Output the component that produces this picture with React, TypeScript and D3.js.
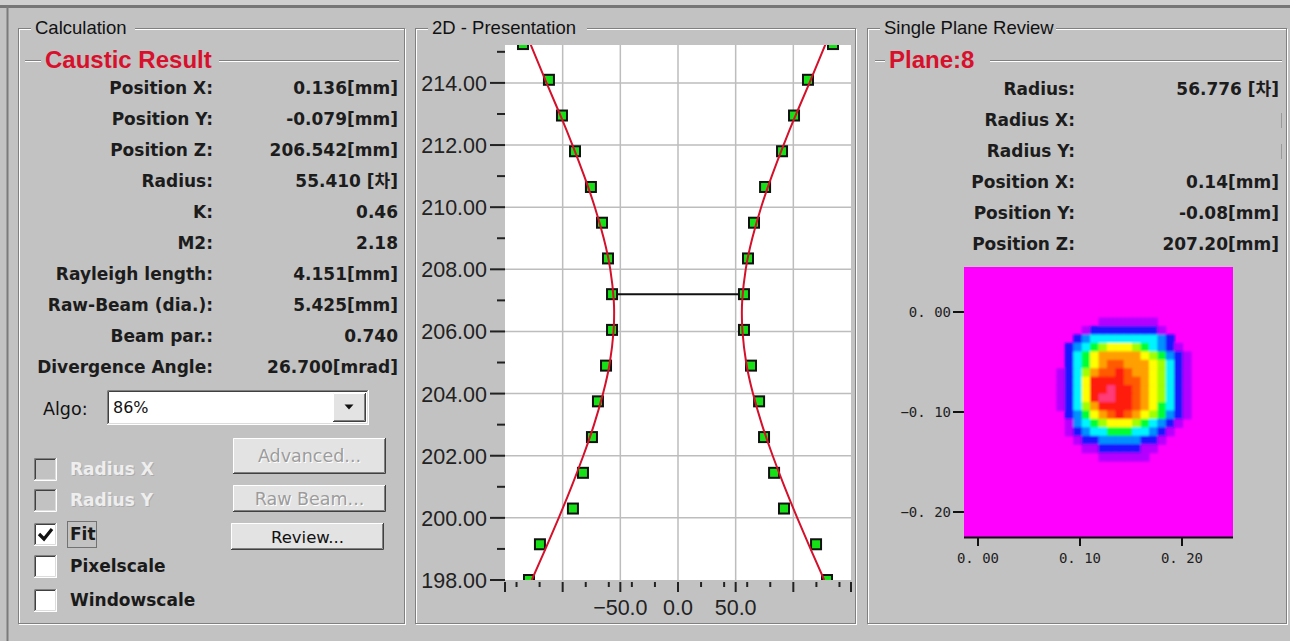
import * as d3 from "d3";
import React from "react";

// caustic measurement: plane positions (mm) and measured half widths per side
const planeZ = [198.0, 199.15, 200.3, 201.45, 202.6, 203.75, 204.9, 206.05, 207.2, 208.35, 209.5, 210.65, 211.8, 212.95, 214.1, 215.25];
const leftRadius = [-129.2, -119.7, -91.1, -82.4, -74.6, -69.4, -62.4, -57.2, -57.2, -60.7, -65.9, -75.5, -89.3, -100.6, -111.9, -134.4];
const rightRadius = [129.2, 119.7, 91.9, 83.3, 74.6, 70.3, 63.3, 57.2, 57.2, 60.7, 65.9, 75.5, 90.2, 100.6, 112.7, 134.4];
const selectedPlane = 8;

// red fit curve
const fitZ = [198.0, 199.0, 200.0, 201.0, 202.0, 203.0, 204.0, 205.0, 206.0, 206.5, 207.0, 208.0, 209.0, 210.0, 211.0, 212.0, 213.0, 214.0, 215.3];
const fitRadius = [126.8, 114.9, 103.4, 92.4, 82.1, 72.8, 65.0, 59.1, 55.9, 55.4, 55.7, 58.7, 64.4, 72.1, 81.3, 91.5, 102.5, 114.0, 128.5];

const xLabelTicks = [-50, 0, 50];

const calcLabels = ["Position X:", "Position Y:", "Position Z:", "Radius:", "K:", "M2:", "Rayleigh length:", "Raw-Beam (dia.):", "Beam par.:", "Divergence Angle:"];
const calcValues = ["0.136[mm]", "-0.079[mm]", "206.542[mm]", "55.410 [차]", "0.46", "2.18", "4.151[mm]", "5.425[mm]", "0.740", "26.700[mrad]"];

const planeLabels = ["Radius:", "Radius X:", "Radius Y:", "Position X:", "Position Y:", "Position Z:"];
const planeValues = ["56.776 [차]", "", "", "0.14[mm]", "-0.08[mm]", "207.20[mm]"];

const algoValue = "86%";
const checkLabels = ["Radius X", "Radius Y", "Fit", "Pixelscale", "Windowscale"];
const checkEnabled = [false, false, true, true, true];
const checkChecked = [false, false, true, false, false];
const buttonLabels = ["Advanced...", "Raw Beam...", "Review..."];
const buttonEnabled = [false, false, true];

// beam profile of the selected plane, one char per cell (0 = background)
const profileSize = 32;
const spotCol = 11;
const spotRow = 6;
const spotRows = [
  "0000011111110000",
  "0001222222221000",
  "0023444444443200",
  "0234567776543210",
  "0245788888765321",
  "0245789988876421",
  "1246899R98876421",
  "1247RRRR99876421",
  "1247RRPRR9876421",
  "1247RPPRR9876421",
  "12468RRRR9875421",
  "0235789R98765321",
  "0134567776543210",
  "0123445554432100",
  "0012233333221000",
  "0001122222110000",
  "0000011111100000",
];
const levelColors: Record<string, string> = {
  "0": "#ff00ff",
  "1": "#b400ff",
  "2": "#1414ff",
  "3": "#0090ff",
  "4": "#00f4ff",
  "5": "#00ff30",
  "6": "#a0ff00",
  "7": "#ffff00",
  "8": "#ffa000",
  "9": "#ff5a00",
  R: "#ff1a10",
  P: "#ff3a78",
};

const BG = "#c2c2c2";
const SANS = "'DejaVu Sans', 'Noto Sans CJK KR', sans-serif";
const ARIAL = "'Liberation Sans', Arial, sans-serif";
const MONO = "'DejaVu Sans Mono', monospace";

function GroupBox({ x, y, w, h, title, titleW }: any) {
  return (
    <g>
      <rect x={x + 1.5} y={y + 1.5} width={w - 2} height={h - 2} fill="none" stroke="#fff" />
      <rect x={x + 0.5} y={y + 0.5} width={w - 2} height={h - 2} fill="none" stroke="#808080" />
      <rect x={x + 13} y={y - 10} width={titleW} height={20} fill={BG} />
      <text x={x + 17} y={y + 6} fontFamily={ARIAL} fontSize={18.5} fill="#111">
        {title}
      </text>
    </g>
  );
}

function SubTitle({ x1, x2, y, gapFrom, gapTo, title }: any) {
  return (
    <g>
      <line x1={x1} x2={gapFrom} y1={y + 0.5} y2={y + 0.5} stroke="#808080" />
      <line x1={x1} x2={gapFrom} y1={y + 1.5} y2={y + 1.5} stroke="#fff" />
      <line x1={gapTo} x2={x2} y1={y + 0.5} y2={y + 0.5} stroke="#808080" />
      <line x1={gapTo} x2={x2} y1={y + 1.5} y2={y + 1.5} stroke="#fff" />
      <text x={gapFrom + 4} y={y + 8} fontFamily={ARIAL} fontWeight="bold" fontSize={24} fill="#d8102c">
        {title}
      </text>
    </g>
  );
}

function Sunken({ x, y, w, h, fill }: any) {
  return (
    <g>
      <rect x={x} y={y} width={w} height={h} fill={fill} />
      <path d={`M${x + 0.5},${y + h} V${y + 0.5} H${x + w}`} fill="none" stroke="#808080" />
      <path d={`M${x + 1.5},${y + h - 1} V${y + 1.5} H${x + w - 1}`} fill="none" stroke="#404040" />
      <path d={`M${x},${y + h - 0.5} H${x + w - 0.5} V${y}`} fill="none" stroke="#fff" />
      <path d={`M${x + 1},${y + h - 1.5} H${x + w - 1.5} V${y + 1}`} fill="none" stroke="#dcdcdc" />
    </g>
  );
}

function Raised({ x, y, w, h }: any) {
  return (
    <g>
      <rect x={x} y={y} width={w} height={h} fill="#e3e3e3" />
      <path d={`M${x + 0.5},${y + h} V${y + 0.5} H${x + w}`} fill="none" stroke="#fff" />
      <path d={`M${x},${y + h - 0.5} H${x + w - 0.5} V${y}`} fill="none" stroke="#404040" />
      <path d={`M${x + 1},${y + h - 1.5} H${x + w - 1.5} V${y + 1}`} fill="none" stroke="#808080" />
    </g>
  );
}

function CausticChart() {
  const left = 505, right = 851, top = 45, bottom = 580;
  const x = d3.scaleLinear().domain([-150, 150]).range([left, right]);
  const y = d3.scaleLinear().domain([198, 215.22]).range([bottom, top]);
  const yMajor = y.ticks(9);
  const yMinor = y.ticks(18).filter((t) => !yMajor.includes(t));
  const xMajor = x.ticks(6);
  const xMinor = x.ticks(12).filter((t) => !xMajor.includes(t));
  const fmtY = d3.format(".2f");
  const fmtX = d3.format(".1f");

  const fitLeft = fitZ.map((z, i) => ({ z, r: -fitRadius[i] }));
  const fitRight = fitZ.map((z, i) => ({ z, r: fitRadius[i] }));
  const line = d3
    .line<{ z: number; r: number }>()
    .x((d) => x(d.r))
    .y((d) => y(d.z))
    .curve(d3.curveNatural);

  const pts = planeZ.flatMap((z, i) => [
    { z, r: leftRadius[i] },
    { z, r: rightRadius[i] },
  ]);
  const sq = 10;

  return (
    <g>
      <defs>
        <clipPath id="plotClip">
          <rect x={left} y={top} width={right - left} height={bottom - top} />
        </clipPath>
      </defs>
      <rect x={left} y={top} width={right - left} height={bottom - top} fill="#fff" />
      <g stroke="#bdbdbd" strokeWidth={1.5}>
        {yMajor.filter((t) => t > 198).map((t) => (
          <line key={"gy" + t} x1={left} x2={right} y1={y(t)} y2={y(t)} />
        ))}
        {xMajor.filter((t) => Math.abs(t) < 150).map((t) => (
          <line key={"gx" + t} x1={x(t)} x2={x(t)} y1={top} y2={bottom} />
        ))}
      </g>
      <g clipPath="url(#plotClip)">
        {pts.map((p, i) => (
          <rect
            key={i}
            x={x(p.r) - sq / 2}
            y={y(p.z) - sq / 2}
            width={sq}
            height={sq}
            fill="#16e016"
            stroke="#111"
            strokeWidth={2}
          />
        ))}
        <path d={line(fitLeft) || ""} fill="none" stroke="#d4102a" strokeWidth={2} />
        <path d={line(fitRight) || ""} fill="none" stroke="#d4102a" strokeWidth={2} />
        <line
          x1={x(leftRadius[selectedPlane]) + sq / 2}
          x2={x(rightRadius[selectedPlane]) - sq / 2}
          y1={y(planeZ[selectedPlane])}
          y2={y(planeZ[selectedPlane])}
          stroke="#111"
          strokeWidth={2}
        />
      </g>
      <g stroke="#222" strokeWidth={2}>
        {yMajor.map((t) => (
          <line key={"ty" + t} x1={490} x2={left} y1={y(t)} y2={y(t)} />
        ))}
        {yMinor.map((t) => (
          <line key={"my" + t} x1={497} x2={left} y1={y(t)} y2={y(t)} />
        ))}
        {xMajor.map((t) => (
          <line key={"tx" + t} x1={x(t)} x2={x(t)} y1={bottom + 2} y2={bottom + 12} />
        ))}
        {xMinor.map((t) => (
          <line key={"mx" + t} x1={x(t)} x2={x(t)} y1={bottom + 2} y2={bottom + 7} />
        ))}
      </g>
      <g fontFamily={ARIAL} fontSize={21.5} fill="#222">
        {yMajor.map((t) => (
          <text key={"ly" + t} x={487} y={y(t) + 8} textAnchor="end">
            {fmtY(t)}
          </text>
        ))}
        {xLabelTicks.map((t) => (
          <text key={"lx" + t} x={x(t)} y={615} textAnchor="middle">
            {fmtX(t)}
          </text>
        ))}
      </g>
    </g>
  );
}

function BeamProfile() {
  const x0 = 964, x1 = 1233, y0 = 267, y1 = 537;
  const col = d3.scaleBand<number>().domain(d3.range(profileSize)).range([x0, x1]);
  const row = d3.scaleBand<number>().domain(d3.range(profileSize)).range([y0, y1]);
  const hx = d3.scaleLinear().domain([-0.0137, 0.25]).range([x0, x1]);
  const hy = d3.scaleLinear().domain([0.045, -0.225]).range([y0, y1]);
  const fmt = (v: number) => d3.format(".2f")(v).replace(".", ". ");
  const cells: any[] = [];
  spotRows.forEach((s, r) => {
    s.split("").forEach((ch, c) => {
      if (ch === "0") return;
      cells.push(
        <rect
          key={r + "-" + c}
          x={col(spotCol + c)}
          y={row(spotRow + r)}
          width={col.bandwidth() + 0.6}
          height={row.bandwidth() + 0.6}
          fill={levelColors[ch]}
        />
      );
    });
  });
  return (
    <g>
      <defs>
        <clipPath id="profileClip">
          <rect x={x0} y={y0} width={x1 - x0} height={y1 - y0} />
        </clipPath>
        <filter id="soft" x="-10%" y="-10%" width="120%" height="120%">
          <feGaussianBlur stdDeviation={1.1} />
        </filter>
      </defs>
      <rect x={x0} y={y0} width={x1 - x0} height={y1 - y0} fill={levelColors["0"]} />
      <g clipPath="url(#profileClip)">
        <g filter="url(#soft)">{cells}</g>
      </g>
      <line x1={x0} x2={x1} y1={y1 + 0.5} y2={y1 + 0.5} stroke="#111" strokeWidth={2} />
      <g stroke="#111" strokeWidth={2}>
        {hy.ticks(3).map((t) => (
          <line key={"y" + t} x1={953} x2={x0} y1={hy(t)} y2={hy(t)} />
        ))}
        {hx.ticks(3).map((t) => (
          <line key={"x" + t} x1={hx(t)} x2={hx(t)} y1={y1} y2={y1 + 9} />
        ))}
      </g>
      <g fontFamily={MONO} fontSize={14} fill="#1e1e1e">
        {hy.ticks(3).map((t) => (
          <text key={"ly" + t} x={951} y={hy(t) + 5} textAnchor="end">
            {fmt(t)}
          </text>
        ))}
        {hx.ticks(3).map((t) => (
          <text key={"lx" + t} x={hx(t)} y={563} textAnchor="middle">
            {fmt(t)}
          </text>
        ))}
      </g>
    </g>
  );
}

export default function App() {
  const checkY = [469, 500, 534, 566, 600];
  const buttonRects = [
    [233, 438, 153, 36],
    [233, 485, 153, 27],
    [231, 523, 153, 27],
  ];
  return (
    <svg width={1290} height={641} style={{ position: "absolute", left: 0, top: 0 }}>
      <rect width={1290} height={641} fill={BG} />
      <rect width={1290} height={5} fill="#cfcfcf" />
      <line x1={0} x2={1290} y1={6.5} y2={6.5} stroke="#767676" strokeWidth={3} />
      <line x1={7.5} x2={7.5} y1={6} y2={641} stroke="#7a7a7a" strokeWidth={2} />

      <GroupBox x={18} y={28} w={388} h={597} title="Calculation" titleW={104} />
      <GroupBox x={415} y={28} w={442} h={597} title="2D - Presentation" titleW={159} />
      <GroupBox x={867} y={28} w={421} h={597} title="Single Plane Review" titleW={176} />

      {/* Calculation panel */}
      <SubTitle x1={25} x2={399} y={60} gapFrom={41} gapTo={219} title="Caustic Result" />
      <g fontFamily={SANS} fontWeight="bold" fontSize={17} fill="#1c1c1c">
        {calcLabels.map((l, i) => (
          <text key={"cl" + i} x={213} y={94 + i * 31} textAnchor="end">
            {l}
          </text>
        ))}
        {calcValues.map((v, i) => (
          <text key={"cv" + i} x={398} y={94 + i * 31} textAnchor="end">
            {v}
          </text>
        ))}
      </g>
      <text x={43} y={415} fontFamily={SANS} fontSize={17.5} fill="#111">
        Algo:
      </text>
      <Sunken x={107} y={390} w={262} h={35} fill="#fff" />
      <text x={113} y={413} fontFamily={SANS} fontSize={16} fill="#111">
        {algoValue}
      </text>
      <Raised x={333} y={393} w={33} h={29} />
      <path d="M344.5,404.5 H353.5 L349,409.5 Z" fill="#111" />

      {checkLabels.map((l, i) => {
        const cy = checkY[i];
        return (
          <g key={"cb" + i}>
            <Sunken x={34} y={cy - 11} w={23} h={23} fill={checkEnabled[i] ? "#fff" : BG} />
            {checkChecked[i] && (
              <path
                d={`M39,${cy} L44,${cy + 5} L52,${cy - 5}`}
                fill="none"
                stroke="#111"
                strokeWidth={3.2}
              />
            )}
            {checkEnabled[i] ? (
              <text x={70} y={cy + 6} fontFamily={SANS} fontWeight="bold" fontSize={17} fill="#1a1a1a">
                {l}
              </text>
            ) : (
              <g fontFamily={SANS} fontWeight="bold" fontSize={17}>
                <text x={71} y={cy + 7} fill="#acacac">
                  {l}
                </text>
                <text x={70} y={cy + 6} fill="#eeeeee">
                  {l}
                </text>
              </g>
            )}
            {checkChecked[i] && (
              <rect
                x={67.5}
                y={cy - 12.5}
                width={29}
                height={26}
                fill="none"
                stroke="#222"
                strokeDasharray="1,1"
              />
            )}
          </g>
        );
      })}

      {buttonLabels.map((l, i) => {
        const [bx, by, bw, bh] = buttonRects[i];
        const tx = bx + bw / 2;
        const ty = by + bh / 2 + 6;
        return (
          <g key={"bt" + i}>
            <Raised x={bx} y={by} w={bw} h={bh} />
            {buttonEnabled[i] ? (
              <text x={tx} y={ty} textAnchor="middle" fontFamily={SANS} fontSize={16.5} fill="#111">
                {l}
              </text>
            ) : (
              <g fontFamily={SANS} fontSize={17.5} textAnchor="middle">
                <text x={tx + 1} y={ty + 1} fill="#fff">
                  {l}
                </text>
                <text x={tx} y={ty} fill="#9c9c9c">
                  {l}
                </text>
              </g>
            )}
          </g>
        );
      })}

      {/* 2D presentation */}
      <CausticChart />

      {/* Single plane review */}
      <SubTitle x1={875} x2={1282} y={60} gapFrom={885} gapTo={990} title="Plane:8" />
      <g fontFamily={SANS} fontWeight="bold" fontSize={17} fill="#1c1c1c">
        {planeLabels.map((l, i) => (
          <text key={"pl" + i} x={1075} y={95 + i * 31} textAnchor="end">
            {l}
          </text>
        ))}
        {planeValues.map((v, i) =>
          v ? (
            <text key={"pv" + i} x={1279} y={95 + i * 31} textAnchor="end">
              {v}
            </text>
          ) : (
            <line key={"pv" + i} x1={1281.5} x2={1281.5} y1={82 + i * 31} y2={97 + i * 31} stroke="#9a9a9a" />
          )
        )}
      </g>
      <BeamProfile />
    </svg>
  );
}
